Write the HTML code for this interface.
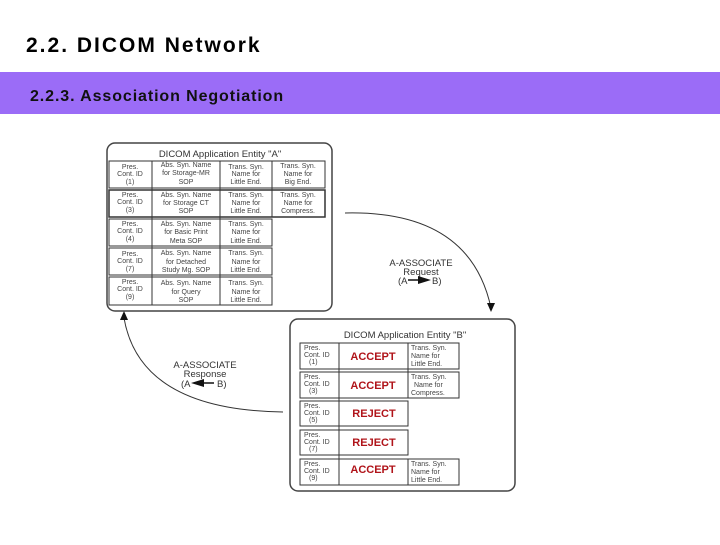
<!DOCTYPE html>
<html><head><style>
body{margin:0;width:720px;height:540px;background:#fff;overflow:hidden;position:relative;font-family:"Liberation Sans",sans-serif}
svg text{font-family:"Liberation Sans",sans-serif}
</style></head><body>
<svg width="720" height="540" viewBox="0 0 720 540" xmlns="http://www.w3.org/2000/svg">
<text x="26" y="52" font-size="21" font-weight="bold" fill="#000" letter-spacing="2">2.2. DICOM Network</text>
<rect x="0" y="72" width="720" height="42" fill="#9b6cf7"/>
<text x="30" y="101" font-size="16" font-weight="bold" fill="#111" letter-spacing="0.9">2.2.3. Association Negotiation</text>

<!-- Box A -->
<rect x="107" y="143" width="225" height="168" rx="8" fill="#fff" stroke="#444" stroke-width="1.5"/>
<text x="220" y="157" font-size="9.5" text-anchor="middle" fill="#333">DICOM Application Entity "A"</text>
<g stroke="#333" stroke-width="1" fill="none">
<rect x="109" y="161" width="216" height="27"/>
<rect x="109" y="190" width="216" height="27" stroke-width="1.5"/>
<rect x="109" y="219" width="163" height="27"/>
<rect x="109" y="248" width="163" height="27"/>
<rect x="109" y="277" width="163" height="28"/>
<line x1="152" y1="161" x2="152" y2="305"/>
<line x1="220" y1="161" x2="220" y2="305"/>
<line x1="272" y1="161" x2="272" y2="217"/>
</g>
<g font-size="7" fill="#444" text-anchor="middle">
<text x="130" y="169">Pres.</text><text x="130" y="176">Cont. ID</text><text x="130" y="184">(1)</text>
<text x="186" y="167">Abs. Syn. Name</text><text x="186" y="175">for Storage-MR</text><text x="186" y="184">SOP</text>
<text x="246" y="169">Trans. Syn.</text><text x="246" y="176">Name for</text><text x="246" y="184">Little End.</text>
<text x="298" y="168">Trans. Syn.</text><text x="298" y="176">Name for</text><text x="298" y="184">Big End.</text>
<text x="130" y="197">Pres.</text><text x="130" y="204">Cont. ID</text><text x="130" y="212">(3)</text>
<text x="186" y="197">Abs. Syn. Name</text><text x="186" y="205">for Storage CT</text><text x="186" y="213">SOP</text>
<text x="246" y="197">Trans. Syn.</text><text x="246" y="205">Name for</text><text x="246" y="213">Little End.</text>
<text x="298" y="197">Trans. Syn.</text><text x="298" y="205">Name  for</text><text x="298" y="213">Compress.</text>
<text x="130" y="226">Pres.</text><text x="130" y="233">Cont. ID</text><text x="130" y="241">(4)</text>
<text x="186" y="226">Abs. Syn. Name</text><text x="186" y="234">for Basic Print</text><text x="186" y="243">Meta SOP</text>
<text x="246" y="226">Trans. Syn.</text><text x="246" y="234">Name for</text><text x="246" y="243">Little End.</text>
<text x="130" y="256">Pres.</text><text x="130" y="263">Cont. ID</text><text x="130" y="271">(7)</text>
<text x="186" y="255">Abs. Syn. Name</text><text x="186" y="264">for Detached</text><text x="186" y="272">Study Mg. SOP</text>
<text x="246" y="255">Trans. Syn.</text><text x="246" y="264">Name for</text><text x="246" y="272">Little End.</text>
<text x="130" y="284">Pres.</text><text x="130" y="291">Cont. ID</text><text x="130" y="299">(9)</text>
<text x="186" y="285">Abs. Syn. Name</text><text x="186" y="294">for Query</text><text x="186" y="302">SOP</text>
<text x="246" y="285">Trans. Syn.</text><text x="246" y="294">Name for</text><text x="246" y="302">Little End.</text>
</g>

<!-- Box B -->
<rect x="290" y="319" width="225" height="172" rx="8" fill="#fff" stroke="#444" stroke-width="1.5"/>
<text x="405" y="338" font-size="9.5" text-anchor="middle" fill="#333">DICOM Application Entity "B"</text>
<g stroke="#333" stroke-width="1" fill="none">
<rect x="300" y="343" width="159" height="26"/>
<rect x="300" y="372" width="159" height="26"/>
<rect x="300" y="401" width="108" height="25"/>
<rect x="300" y="430" width="108" height="25"/>
<rect x="300" y="459" width="159" height="26"/>
<line x1="339" y1="343" x2="339" y2="485"/>
<line x1="408" y1="343" x2="408" y2="398"/>
<line x1="408" y1="459" x2="408" y2="485"/>
</g>
<g font-size="7" fill="#444">
<text x="304" y="350">Pres.</text><text x="304" y="357">Cont. ID</text><text x="309" y="364">(1)</text>
<text x="304" y="379">Pres.</text><text x="304" y="386">Cont. ID</text><text x="309" y="393">(3)</text>
<text x="304" y="408">Pres.</text><text x="304" y="415">Cont. ID</text><text x="309" y="422">(5)</text>
<text x="304" y="437">Pres.</text><text x="304" y="444">Cont. ID</text><text x="309" y="451">(7)</text>
<text x="304" y="466">Pres.</text><text x="304" y="473">Cont. ID</text><text x="309" y="480">(9)</text>
<text x="411" y="350">Trans. Syn.</text><text x="411" y="358">Name for</text><text x="411" y="366">Little End.</text>
<text x="411" y="379">Trans. Syn.</text><text x="414" y="387">Name for</text><text x="411" y="395">Compress.</text>
<text x="411" y="466">Trans. Syn.</text><text x="411" y="474">Name for</text><text x="411" y="482">Little End.</text>
</g>
<g font-size="11" font-weight="bold" fill="#b0141a" text-anchor="middle">
<text x="373" y="360">ACCEPT</text>
<text x="373" y="389">ACCEPT</text>
<text x="374" y="417">REJECT</text>
<text x="374" y="446">REJECT</text>
<text x="373" y="473">ACCEPT</text>
</g>

<!-- arcs -->
<g stroke="#333" stroke-width="1" fill="none">
<path d="M345 213 Q470 210 491 308"/>
<path d="M283 412 Q140 410 124 318"/>
</g>
<polygon points="487,303 495,303 491,312" fill="#111"/>
<polygon points="120,320 128,320 124,311" fill="#111"/>
<g font-size="9.5" fill="#333" text-anchor="middle">
<text x="421" y="266">A-ASSOCIATE</text><text x="421" y="275">Request</text>
<text x="205" y="368">A-ASSOCIATE</text><text x="205" y="377">Response</text>
</g>
<g font-size="9.5" fill="#333">
<text x="398" y="284">(A</text><text x="432" y="284">B)</text>
<text x="181" y="387">(A</text><text x="217" y="387">B)</text>
</g>
<line x1="408" y1="280" x2="422" y2="280" stroke="#111" stroke-width="1.5"/>
<polygon points="418,276 431,280 418,284" fill="#111"/>
<line x1="200" y1="383" x2="214" y2="383" stroke="#111" stroke-width="1.5"/>
<polygon points="204,379 191,383 204,387" fill="#111"/>
</svg>
</body></html>
